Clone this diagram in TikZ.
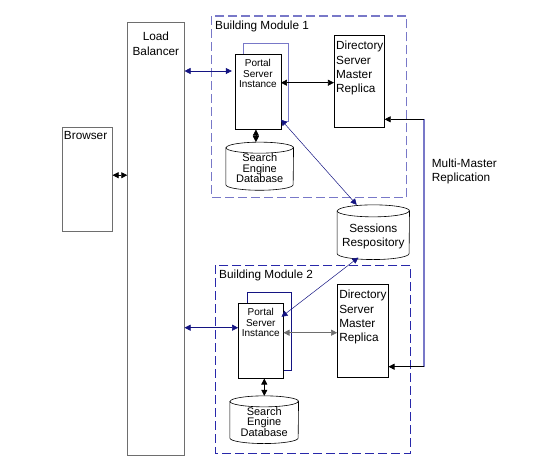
\documentclass[tikz,border=0pt]{standalone}
\usepackage{fontspec}
\setmainfont{Liberation Sans}
\usetikzlibrary{positioning, calc, arrows.meta}

\definecolor{navyline}{RGB}{20,20,130}
\definecolor{lavender}{RGB}{120,120,200}
\definecolor{modblue}{RGB}{40,40,170}
\definecolor{boxgray}{RGB}{110,110,110}

% cylinder drawn round an empty named node: #1 node, #2 x radius, #3 y radius
\newcommand{\dbdrum}[3]{%
	\draw[fill=white, line width=.6pt] ([yshift=-#3]#1.north west) -- ([yshift=#3]#1.south west)
		arc[start angle=180, end angle=360, x radius=#2, y radius=#3]
		-- ([yshift=-#3]#1.north east)
		arc[start angle=0, end angle=180, x radius=#2, y radius=#3] -- cycle;
	\draw[line width=.6pt] ([yshift=-#3]#1.north west) arc[start angle=180, end angle=360, x radius=#2, y radius=#3];}

\begin{document}
\begin{tikzpicture}[x=1pt, y=-1pt,
	box/.style = {draw, fill=white, inner sep=0pt},
	db/.style = {inner sep=0pt},
	tip/.style = {{Triangle[length=6pt,width=6pt]}-{Triangle[length=6pt,width=6pt]}},
	bluelink/.style = {tip, navyline, line width=.6pt},
	blacklink/.style = {tip, black, line width=.6pt},
	txt/.style = {font=\fontsize{11.8}{14.2}\selectfont, inner sep=0pt},
	dbtxt/.style = {font=\fontsize{11}{10.6}\selectfont, inner sep=0pt, align=center},
	small/.style = {font=\fontsize{10}{10.7}\selectfont, inner sep=0pt, align=center}]
	\useasboundingbox (0,0) rectangle (533,475);

	% building modules
	\draw[lavender, line width=1.2pt, dash pattern=on 9pt off 4pt] (211.7,16) rectangle (406.7,197.7);
	\draw[modblue, line width=.9pt, dash pattern=on 9pt off 4pt] (215.7,265) rectangle (410.7,453.3);
	\node[txt, anchor=west] at (215,26) {Building Module 1};
	\node[txt, anchor=west] at (219,275.7) {Building Module 2};

	% browser and load balancer
	\node[box, draw=boxgray, line width=1pt, minimum width=49.3pt, minimum height=103.7pt] (browser) at (87.4,179.2) {};
	\node[txt, anchor=north west] at ([shift={(1.5,4.5)}]browser.north west) {Browser};
	\node[box, draw=boxgray, line width=1pt, minimum width=56.3pt, minimum height=432.7pt] (lb) at (155.9,239) {};
	\node[txt, align=center, anchor=north] at ([yshift=-10pt]lb.north) {Load\\Balancer};

	% module 1
	\node[box, draw=lavender, line width=.9pt, minimum width=45pt, minimum height=78.4pt] (p1back) at (265.8,82.5) {};
	\node[box, minimum width=45.7pt, minimum height=75.3pt] (p1) at (257.9,91.7) {};
	\node[small, anchor=north] at ([yshift=-5pt]p1.north) {Portal\\Server\\Instance};
	\node[box, minimum width=50.3pt, minimum height=92pt] (dir1) at (359.3,81.3) {};
	\node[txt, align=left, anchor=north west] at ([shift={(2,6)}]dir1.north west) {Directory\\Server\\Master\\Replica};
	\node[db, minimum width=67.3pt, minimum height=47.7pt] (db1) at (259.7,166.2) {};
	\dbdrum{db1}{33.65pt}{5.5pt}
	\node[dbtxt] at ([yshift=-2pt]db1.center) {Search\\Engine\\Database};

	% sessions
	\node[db, minimum width=72pt, minimum height=54.3pt] (ses) at (373.3,232.2) {};
	\dbdrum{ses}{36pt}{6pt}
	\node[txt, align=center] at ([yshift=-4pt]ses.center) {Sessions\\Respository};

	% module 2
	\node[box, draw=navyline, line width=.9pt, minimum width=43.7pt, minimum height=77.3pt] (p2back) at (269.2,331.4) {};
	\node[box, minimum width=45pt, minimum height=75pt] (p2) at (260.8,340.8) {};
	\node[small, anchor=north] at ([yshift=-5pt]p2.north) {Portal\\Server\\Instance};
	\node[box, minimum width=51pt, minimum height=92.4pt] (dir2) at (362.8,330.5) {};
	\node[txt, align=left, anchor=north west] at ([shift={(2,6)}]dir2.north west) {Directory\\Server\\Master\\Replica};
	\node[db, minimum width=68.3pt, minimum height=47.3pt] (db2) at (264.2,419.7) {};
	\dbdrum{db2}{34.15pt}{5.5pt}
	\node[dbtxt] at ([yshift=-2pt]db2.center) {Search\\Engine\\Database};

	% links
	\draw[blacklink] ([yshift=4pt]browser.east) -- ([yshift=4pt]browser.east -| lb.west);
	\draw[bluelink] (lb.east |- 0,71) -- ([xshift=-3pt]p1.west |- 0,71);
	\draw[blacklink] (p1.east |- 0,82.7) -- (dir1.west |- 0,82.7);
	\draw[blacklink] ([xshift=-2pt]p1.south) -- ([xshift=-2pt]p1.south |- db1.north);
	\draw[bluelink, line width=.5pt] ([yshift=10pt]p1.south east) -- ([xshift=-16.6pt]ses.north);
	\draw[bluelink, line width=.5pt] ([shift={(-2pt,24pt)}]p2.east) -- ([shift={(-15pt,2pt)}]ses.south);
	\draw[bluelink] (lb.east |- 0,327.7) -- (p2.west |- 0,327.7);
	\draw[blacklink, draw=boxgray] (p2.east |- 0,332.7) -- (dir2.west |- 0,332.7);
	\draw[blacklink] ([xshift=3.5pt]p2.south) -- ([xshift=3.5pt]p2.south |- db2.north);

	% replication
	\coordinate (r1) at (424,119.3);
	\coordinate (r2) at (424,366.7);
	\draw[lavender, line width=1.6pt] (r1) -- (r2);
	\draw[-{Triangle[length=6pt,width=6pt]}, line width=.6pt] (r1) -- (dir1.east |- r1);
	\draw[-{Triangle[length=6pt,width=6pt]}, line width=.6pt] (r2) -- (dir2.east |- r2);
	\node[txt, align=left, anchor=north west] at (431.7,159) {Multi-Master\\Replication};
\end{tikzpicture}
\end{document}
